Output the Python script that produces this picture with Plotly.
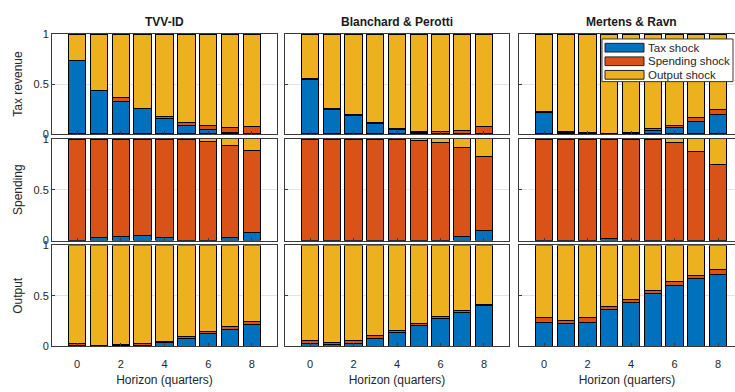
import plotly.graph_objects as go

# Forecast error variance decomposition, horizons 0-8 quarters
horizons = [0, 1, 2, 3, 4, 5, 6, 7, 8]
identifications = ["TVV-ID", "Blanchard & Perotti", "Mertens & Ravn"]
variables = ["Tax revenue", "Spending", "Output"]
shock_names = ["Tax shock", "Spending shock", "Output shock"]
x_ticks = [0, 2, 4, 6, 8]
y_ticks = [0, 0.5, 1]
x_tick_labels = ["0", "2", "4", "6", "8"]
y_tick_labels = ["0", "0.5", "1"]

# TVV-ID
tvv_taxrev_tax = [0.732, 0.432, 0.329, 0.255, 0.152, 0.087, 0.048, 0.012, 0.004]
tvv_taxrev_spend = [0.006, 0.006, 0.035, 0.004, 0.020, 0.025, 0.040, 0.048, 0.070]
tvv_taxrev_out = [0.262, 0.562, 0.636, 0.741, 0.828, 0.888, 0.912, 0.940, 0.926]
tvv_spend_tax = [0.002, 0.029, 0.041, 0.051, 0.032, 0.003, 0.005, 0.029, 0.080]
tvv_spend_spend = [0.996, 0.969, 0.957, 0.947, 0.966, 0.995, 0.970, 0.907, 0.809]
tvv_spend_out = [0.002, 0.002, 0.002, 0.002, 0.002, 0.002, 0.025, 0.064, 0.111]
tvv_output_tax = [0.005, 0.003, 0.005, 0.010, 0.039, 0.074, 0.123, 0.171, 0.219]
tvv_output_spend = [0.024, 0.008, 0.008, 0.018, 0.013, 0.026, 0.022, 0.026, 0.026]
tvv_output_out = [0.971, 0.989, 0.987, 0.972, 0.948, 0.900, 0.855, 0.803, 0.755]

# Blanchard & Perotti
bp_taxrev_tax = [0.545, 0.248, 0.181, 0.106, 0.048, 0.010, 0.004, 0.006, 0.008]
bp_taxrev_spend = [0.006, 0.005, 0.015, 0.005, 0.010, 0.016, 0.018, 0.033, 0.063]
bp_taxrev_out = [0.449, 0.747, 0.804, 0.889, 0.942, 0.974, 0.978, 0.961, 0.929]
bp_spend_tax = [0.001, 0.001, 0.001, 0.005, 0.001, 0.002, 0.002, 0.041, 0.096]
bp_spend_spend = [0.997, 0.997, 0.997, 0.993, 0.997, 0.980, 0.957, 0.876, 0.732]
bp_spend_out = [0.002, 0.002, 0.002, 0.002, 0.002, 0.018, 0.041, 0.083, 0.172]
bp_output_tax = [0.026, 0.022, 0.032, 0.081, 0.132, 0.206, 0.277, 0.339, 0.400]
bp_output_spend = [0.035, 0.015, 0.029, 0.029, 0.029, 0.017, 0.017, 0.019, 0.016]
bp_output_out = [0.939, 0.963, 0.939, 0.890, 0.839, 0.777, 0.706, 0.642, 0.584]

# Mertens & Ravn
mr_taxrev_tax = [0.216, 0.018, 0.005, 0.003, 0.010, 0.032, 0.068, 0.129, 0.190]
mr_taxrev_spend = [0.005, 0.004, 0.005, 0.003, 0.005, 0.018, 0.016, 0.039, 0.052]
mr_taxrev_out = [0.779, 0.978, 0.990, 0.994, 0.985, 0.950, 0.916, 0.832, 0.758]
mr_spend_tax = [0.001, 0.005, 0.003, 0.025, 0.005, 0.001, 0.002, 0.002, 0.002]
mr_spend_spend = [0.997, 0.993, 0.995, 0.973, 0.993, 0.997, 0.963, 0.877, 0.743]
mr_spend_out = [0.002, 0.002, 0.002, 0.002, 0.002, 0.002, 0.035, 0.121, 0.255]
mr_output_tax = [0.239, 0.226, 0.239, 0.361, 0.435, 0.519, 0.603, 0.668, 0.716]
mr_output_spend = [0.045, 0.032, 0.045, 0.029, 0.033, 0.033, 0.036, 0.032, 0.042]
mr_output_out = [0.716, 0.742, 0.716, 0.610, 0.532, 0.448, 0.361, 0.300, 0.242]

panels = [
    [(tvv_taxrev_tax, tvv_taxrev_spend, tvv_taxrev_out),
     (bp_taxrev_tax, bp_taxrev_spend, bp_taxrev_out),
     (mr_taxrev_tax, mr_taxrev_spend, mr_taxrev_out)],
    [(tvv_spend_tax, tvv_spend_spend, tvv_spend_out),
     (bp_spend_tax, bp_spend_spend, bp_spend_out),
     (mr_spend_tax, mr_spend_spend, mr_spend_out)],
    [(tvv_output_tax, tvv_output_spend, tvv_output_out),
     (bp_output_tax, bp_output_spend, bp_output_out),
     (mr_output_tax, mr_output_spend, mr_output_out)],
]

colors = ["#0072BD", "#D95319", "#EDB120"]
W, H = 735, 392
FONT = "Liberation Sans, Arial, sans-serif"
TXT = "#262626"
AX = "#3a3a3a"

# pixel layout of the panels: left, right, x-range low, x-range high
col_px = [(52, 277, -1.15, 9.15), (285, 509, -1.15, 9.15), (519, 735, -1.15, 8.78)]
row_px = [(29, 132), (137, 242), (247, 351)]

fig = go.Figure()
layout = {}
for r in range(3):
    for c in range(3):
        k = r * 3 + c + 1
        xa = "x" if k == 1 else f"x{k}"
        ya = "y" if k == 1 else f"y{k}"
        for s in range(3):
            fig.add_trace(go.Bar(
                x=horizons, y=panels[r][c][s], xaxis=xa, yaxis=ya,
                name=shock_names[s], showlegend=False,
                marker=dict(color=colors[s], line=dict(color="#000000", width=1)),
            ))
        x0, x1, lo, hi = col_px[c]
        ytop, ybot = row_px[r]
        layout["xaxis" if k == 1 else f"xaxis{k}"] = dict(
            domain=[x0 / W, x1 / W], anchor=ya, range=[lo, hi],
            tickvals=x_ticks, ticktext=x_tick_labels,
            showticklabels=(r == 2), ticks="inside", ticklen=3, tickcolor=AX,
            ticklabelstandoff=8,
            showgrid=False, zeroline=False,
            showline=True, linecolor=AX, linewidth=1, mirror=True,
            tickfont=dict(family=FONT, size=11, color=TXT),
            title=dict(text="Horizon (quarters)" if r == 2 else "",
                       font=dict(family=FONT, size=12, color=TXT), standoff=6),
        )
        layout["yaxis" if k == 1 else f"yaxis{k}"] = dict(
            domain=[1 - ybot / H, 1 - ytop / H], anchor=xa, range=[0, 1],
            tickvals=y_ticks, ticktext=y_tick_labels,
            showticklabels=(c == 0), ticks="inside", ticklen=3, tickcolor=AX,
            showgrid=True, gridcolor="#e3e3e3", gridwidth=1,
            zeroline=False,
            showline=True, linecolor=AX, linewidth=1, mirror=(c != 2),
            tickfont=dict(family=FONT, size=11, color=TXT),
            title=dict(text=variables[r] if c == 0 else "",
                       font=dict(family=FONT, size=12, color=TXT), standoff=8),
        )

# column titles, centred over horizon 4 of each column
annotations = []
for c in range(3):
    x0, x1, lo, hi = col_px[c]
    cx = x0 + (4 - lo) / (hi - lo) * (x1 - x0)
    annotations.append(dict(
        text=f"<b>{identifications[c]}</b>", x=cx / W, y=1 - 16 / H,
        xref="paper", yref="paper", xanchor="center", yanchor="middle",
        showarrow=False, font=dict(family=FONT, size=12, color="#1a1a1a"),
    ))

# legend box drawn inside the top-right panel
shapes = [dict(type="rect", xref="paper", yref="paper",
               x0=602 / W, x1=733 / W, y0=1 - 78 / H, y1=1 - 34 / H,
               fillcolor="white", line=dict(color=AX, width=1), layer="above")]
entry_y = [(38.5, 47.5), (52.5, 61.5), (66.5, 75.5)]
for s in range(3):
    ya0, ya1 = entry_y[s]
    shapes.append(dict(type="rect", xref="paper", yref="paper",
                       x0=605 / W, x1=644 / W, y0=1 - ya1 / H, y1=1 - ya0 / H,
                       fillcolor=colors[s], line=dict(color="#222222", width=1),
                       layer="above"))
    annotations.append(dict(
        text=shock_names[s], x=646 / W, y=1 - (ya0 + ya1) / 2 / H,
        xref="paper", yref="paper", xanchor="left", yanchor="middle",
        showarrow=False, font=dict(family=FONT, size=11.5, color=TXT),
    ))

fig.update_layout(
    **layout,
    barmode="stack", bargap=0.2,
    width=W, height=H,
    margin=dict(l=0, r=0, t=0, b=0),
    paper_bgcolor="white", plot_bgcolor="white",
    annotations=annotations, shapes=shapes,
    showlegend=False,
)
fig.write_html("out.html")
